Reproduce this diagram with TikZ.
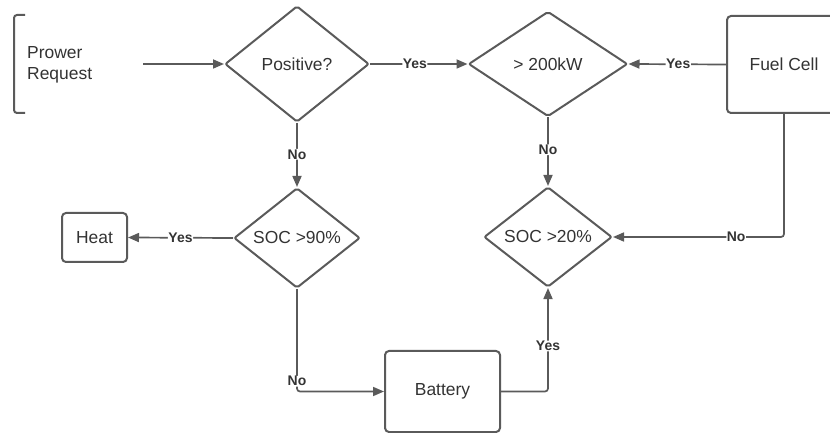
\documentclass[tikz,border=0pt]{standalone}
\usepackage{fontspec}
\setmainfont{Liberation Sans}
\usetikzlibrary{arrows.meta,positioning,shapes.geometric}
\definecolor{lnegray}{HTML}{5A5A5A}
\definecolor{txtgray}{HTML}{333333}
\tikzset{
  dec/.style={diamond,draw=lnegray,line width=2bp,rounded corners=2bp,
              aspect=1,inner sep=0pt,text=txtgray,
              font=\fontsize{17.5}{21}\selectfont},
  blk/.style={rectangle,draw=lnegray,line width=2bp,rounded corners=4bp,
              text=txtgray,font=\fontsize{17.5}{21}\selectfont},
  ar/.style={-{Triangle[length=11bp,width=9bp]},draw=lnegray,
             line width=1.7bp,rounded corners=3bp},
  lbl/.style={fill=white,inner sep=0.5bp,text=txtgray,
              font=\fontsize{14}{16}\selectfont\bfseries},
}

\begin{document}
\begin{tikzpicture}[x=1bp,y=-1bp]
    \useasboundingbox (0,0) rectangle (830,433);
    % input bracket
    \draw[lnegray,line width=2bp,rounded corners=3bp]
      (25,15) -- (14,15) -- (14,113) -- (25,113);
    \node[anchor=west,align=left,text=txtgray,inner sep=0pt,
          font=\fontsize{17.5}{21}\selectfont] (req) at (27,65)
      {Prower\\Request};
    \coordinate (reqout) at (143,64);
    % decisions
    \node[dec,minimum width=144bp,minimum height=116bp] (pos) at (297,64)
      {Positive?};
    \node[dec,minimum width=159bp,minimum height=105bp] (kw) at (548,64)
      {> 200kW};
    \node[dec,minimum width=126bp,minimum height=94bp] (soc90) at (297,238)
      {SOC >90\%};
    \node[dec,minimum width=128bp,minimum height=94bp] (soc20) at (548,237)
      {SOC >20\%};
    % boxes
    \node[blk,minimum width=114bp,minimum height=97bp] (fc) at (784,64.5)
      {Fuel Cell};
    \node[blk,minimum width=65bp,minimum height=49bp] (heat) at (94.5,237.5)
      {Heat};
    \node[blk,minimum width=115bp,minimum height=81bp] (bat) at (442.5,391.5)
      {Battery};
    % connectors
    \draw[ar] (reqout) -- (pos.west);
    \draw[ar] (pos.east) -- node[lbl,pos=0.46]{Yes} (kw.west);
    \draw[ar] (fc.west) -- node[lbl,pos=0.49]{Yes} (kw.east);
    \draw[ar] (pos.south) -- node[lbl,pos=0.49]{No} (soc90.north);
    \draw[ar] (kw.south) -- node[lbl,pos=0.47]{No} (soc20.north);
    \draw[ar] (soc90.west) -- node[lbl,pos=0.5]{Yes} (heat.east);
    \draw[ar] (fc.south) |- node[lbl,pos=0.64]{No} (soc20.east);
    \draw[ar] (soc90.south) |- node[lbl,pos=0.45]{No} (bat.west);
    \draw[ar] (bat.east) -| node[lbl,pos=0.72]{Yes} (soc20.south);
\end{tikzpicture}
\end{document}
